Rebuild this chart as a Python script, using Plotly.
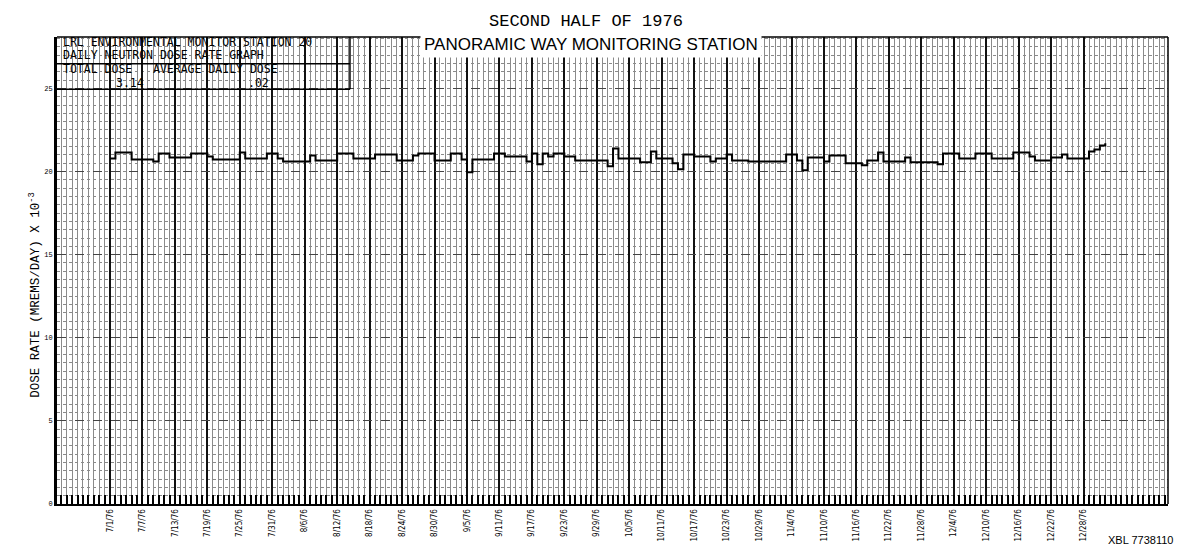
import plotly.graph_objects as go
import pandas as pd

# ---- data ----
start_date = "1976-07-01"
step_day = [0, 1, 4, 8, 9, 11, 15, 18, 19, 24, 25, 29, 31, 32, 37, 38, 42, 45, 49, 53,
            56, 57, 60, 63, 65, 66, 67, 71, 73, 77, 78, 79, 80, 81, 82, 84, 86, 92, 93, 94,
            98, 100, 101, 104, 105, 106, 108, 111, 112, 114, 115, 118, 125, 127, 128, 129,
            132, 133, 136, 139, 140, 142, 143, 147, 148, 153, 154, 157, 160, 163, 167, 170,
            171, 174, 176, 177, 181, 182, 183, 184]
dose_rate = [20.78, 21.14, 20.72, 20.60, 21.08, 20.84, 21.08, 20.90, 20.72, 21.14,
             20.78, 21.08, 20.78, 20.60, 20.96, 20.66, 21.08, 20.78, 21.02, 20.66,
             20.96, 21.08, 20.66, 21.08, 20.72, 19.95, 20.72, 21.08, 20.90, 20.60,
             21.08, 20.43, 21.08, 20.90, 21.08, 20.90, 20.66, 20.31, 21.38, 20.78,
             20.55, 21.20, 20.78, 20.49, 20.13, 21.02, 20.90, 20.60, 20.78, 21.02,
             20.66, 20.60, 21.02, 20.66, 20.07, 20.84, 20.60, 20.96, 20.49, 20.37,
             20.66, 21.14, 20.60, 20.84, 20.55, 20.43, 21.08, 20.78, 21.08, 20.78,
             21.14, 20.90, 20.66, 20.84, 21.02, 20.78, 21.20, 21.32, 21.56, 21.70]
# date labels along the x axis: every 6 days from 1 July to 28 December 1976
x_tick_days = list(range(0, 181, 6))
y_ticks = [0, 5, 10, 15, 20, 25]
y_tick_text = ["0", "5", "10", "15", "20", "25"]

header_line1 = "LRL ENVIRONMENTAL MONITOR STATION 20"
header_line2 = "DAILY NEUTRON DOSE RATE GRAPH"
header_line3 = "TOTAL DOSE   AVERAGE DAILY DOSE"
total_dose = "3.14"
avg_daily = ".02"

base = pd.Timestamp(start_date)
x_dates = [base + pd.Timedelta(days=d) for d in step_day]
x_tick_dates = [base + pd.Timedelta(days=d) for d in x_tick_days]
x_tick_text = [f"{t.month}/{t.day}/{t.strftime('%y')}" for t in x_tick_dates]

DAY_MS = 86400000
mono = "Liberation Mono, DejaVu Sans Mono, monospace"

fig = go.Figure()
fig.add_trace(go.Scatter(
    x=x_dates, y=dose_rate, mode="lines", line=dict(color="black", width=2, shape="hv"),
    hoverinfo="x+y", showlegend=False))

fig.update_layout(
    width=1195, height=554,
    margin=dict(l=57, r=27, t=37, b=44),
    paper_bgcolor="white", plot_bgcolor="white",
    font=dict(family=mono, color="black"),
    xaxis=dict(
        type="date",
        range=[base + pd.Timedelta(days=-9.8), base + pd.Timedelta(days=195.6)],
        tickmode="array", tickvals=x_tick_dates, ticktext=x_tick_text, tickangle=-90,
        tickfont=dict(size=8, family="DejaVu Sans Condensed, DejaVu Sans", color="black"),
        showgrid=True, gridcolor="#111", gridwidth=2,
        showline=True, linecolor="black", linewidth=2,
        ticks="", zeroline=False,
        minor=dict(tick0=start_date, dtick=DAY_MS, showgrid=True, gridcolor="#8a8a8a",
                   gridwidth=1, griddash="solid", ticks="inside", ticklen=9,
                   tickcolor="black", tickwidth=2),
    ),
    yaxis=dict(
        range=[0, 28.09],
        tickvals=y_ticks, ticktext=y_tick_text,
        tickfont=dict(size=7, color="black"),
        showgrid=True, gridcolor="#444", gridwidth=1, griddash="dash",
        showline=True, linecolor="black", linewidth=3, zeroline=False,
        minor=dict(dtick=0.5, showgrid=True, gridcolor="#8a8a8a", griddash="dot"),
    ),
)

# header box (top-left) and outer frame
frame = dict(color="black", width=1.5)
fig.add_shape(type="line", xref="paper", yref="paper", x0=0, x1=1, y0=1, y1=1, line=frame)
fig.add_shape(type="line", xref="paper", yref="paper", x0=1, x1=1, y0=0, y1=1, line=frame)
fig.add_shape(type="line", xref="paper", yref="paper", x0=0, x1=0.2637, y0=0.9429, y1=0.9429, line=frame)
fig.add_shape(type="line", xref="paper", yref="paper", x0=0, x1=0.2637, y0=0.8879, y1=0.8879, line=frame)
fig.add_shape(type="line", xref="paper", yref="paper", x0=0.2637, x1=0.2637, y0=0.8879, y1=1, line=frame)

hdr_font = dict(family="DejaVu Sans Mono", size=11.5, color="black")
for txt, xp, yp, anchor in [
    (header_line1, 0.004, 0.9894, "left"),
    (header_line2, 0.004, 0.9619, "left"),
    (header_line3, 0.004, 0.9323, "left"),
    (total_dose, 0.066, 0.9006, "center"),
    (avg_daily, 0.181, 0.9006, "center"),
]:
    fig.add_annotation(xref="paper", yref="paper", x=xp, y=yp, xanchor=anchor,
                       yanchor="middle", text=txt, showarrow=False, font=hdr_font)

# y-axis title
fig.add_annotation(xref="paper", yref="paper", x=-0.0198, y=0.448, xanchor="center",
                   yanchor="middle", textangle=-90, showarrow=False,
                   text="DOSE RATE (MREMS/DAY) X 10<sup>-3</sup>",
                   font=dict(family=mono, size=12.5, color="black"))

# titles
fig.add_annotation(xref="paper", yref="paper", x=0.476, y=1.034, xanchor="center", yanchor="middle",
                   text="SECOND HALF OF 1976", showarrow=False,
                   font=dict(family=mono, size=17, color="black"))
fig.add_annotation(xref="paper", yref="paper", x=0.481, y=0.984, xanchor="center", yanchor="middle",
                   text="PANORAMIC WAY MONITORING STATION", showarrow=False,
                   bgcolor="white", borderpad=3,
                   font=dict(family="Liberation Sans, Arial", size=17, color="black"))
fig.add_annotation(xref="paper", yref="paper", x=1.006, y=-0.078, xanchor="right", yanchor="middle",
                   text="XBL 7738110", showarrow=False,
                   font=dict(family="Liberation Sans Narrow, Liberation Sans", size=11, color="black"))

fig.write_html("out.html")
